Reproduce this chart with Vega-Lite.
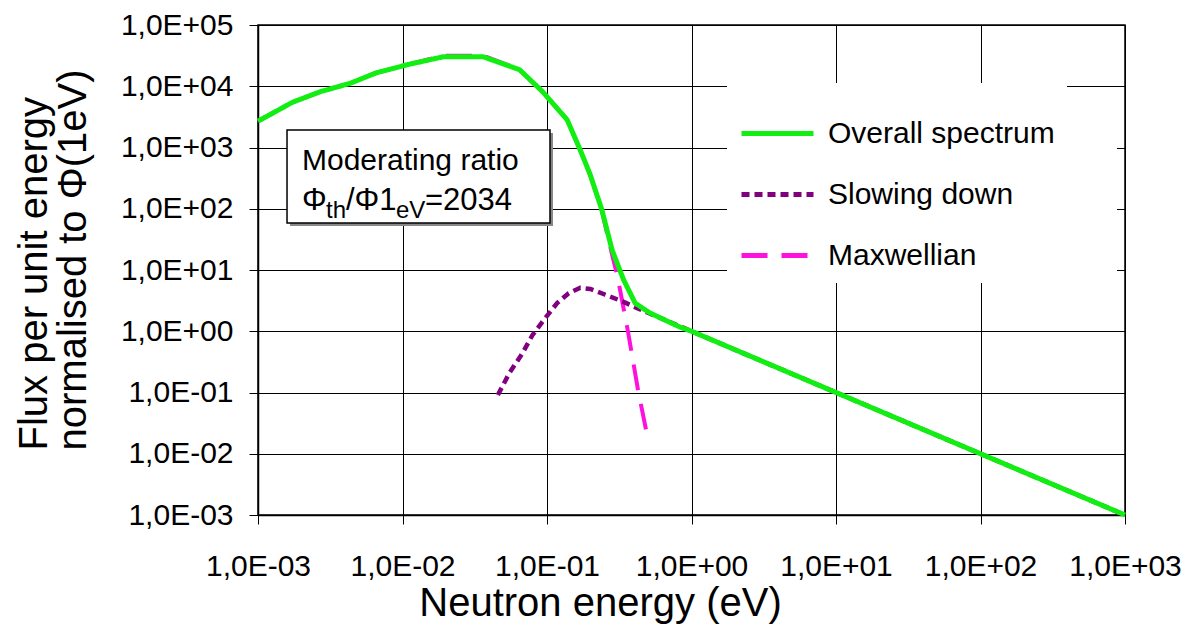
{
  "$schema": "https://vega.github.io/schema/vega-lite/v6.json",
  "width": 867,
  "height": 490,
  "autosize": "none",
  "padding": {"left": 258, "top": 25, "right": 62, "bottom": 114},
  "background": "white",
  "config": {
    "font": "Liberation Sans",
    "view": {"stroke": "black", "strokeWidth": 1.5}
  },
  "layer": [
    {
      "data": {"values": [{"label": "legend area"}]},
      "mark": {"type": "rect", "fill": "white"},
      "encoding": {
        "x": {"datum": 1.846, "type": "quantitative", "scale": {"type": "log", "domain": [0.001, 1000], "nice": false}},
        "x2": {"datum": 880.5},
        "y": {"datum": 7759, "type": "quantitative", "scale": {"type": "log", "domain": [0.001, 100000], "nice": false}},
        "y2": {"datum": 7.4}
      }
    },
    {
      "data": {
        "values": [
          {"series": "Overall spectrum", "energy": 0.001, "flux": 2692},
          {"series": "Overall spectrum", "energy": 0.001738, "flux": 5495},
          {"series": "Overall spectrum", "energy": 0.002692, "flux": 8128},
          {"series": "Overall spectrum", "energy": 0.004365, "flux": 11220},
          {"series": "Overall spectrum", "energy": 0.006607, "flux": 16596},
          {"series": "Overall spectrum", "energy": 0.01072, "flux": 22387},
          {"series": "Overall spectrum", "energy": 0.01905, "flux": 30200},
          {"series": "Overall spectrum", "energy": 0.03631, "flux": 30200},
          {"series": "Overall spectrum", "energy": 0.06457, "flux": 18621},
          {"series": "Overall spectrum", "energy": 0.09333, "flux": 8128},
          {"series": "Overall spectrum", "energy": 0.138, "flux": 2818},
          {"series": "Overall spectrum", "energy": 0.1698, "flux": 912},
          {"series": "Overall spectrum", "energy": 0.1995, "flux": 355},
          {"series": "Overall spectrum", "energy": 0.2399, "flux": 95.5},
          {"series": "Overall spectrum", "energy": 0.2818, "flux": 21.4},
          {"series": "Overall spectrum", "energy": 0.3388, "flux": 6.92},
          {"series": "Overall spectrum", "energy": 0.4074, "flux": 2.88},
          {"series": "Overall spectrum", "energy": 0.5129, "flux": 2.0},
          {"series": "Overall spectrum", "energy": 0.8318, "flux": 1.17},
          {"series": "Overall spectrum", "energy": 1, "flux": 1},
          {"series": "Overall spectrum", "energy": 3.162, "flux": 0.316},
          {"series": "Overall spectrum", "energy": 10, "flux": 0.1},
          {"series": "Overall spectrum", "energy": 31.62, "flux": 0.0316},
          {"series": "Overall spectrum", "energy": 100, "flux": 0.01},
          {"series": "Overall spectrum", "energy": 316.2, "flux": 0.00316},
          {"series": "Overall spectrum", "energy": 1000, "flux": 0.001},
          {"series": "Slowing down", "energy": 0.04571, "flux": 0.0912},
          {"series": "Slowing down", "energy": 0.05495, "flux": 0.209},
          {"series": "Slowing down", "energy": 0.06761, "flux": 0.437},
          {"series": "Slowing down", "energy": 0.07943, "flux": 0.871},
          {"series": "Slowing down", "energy": 0.09772, "flux": 1.66},
          {"series": "Slowing down", "energy": 0.1175, "flux": 2.88},
          {"series": "Slowing down", "energy": 0.1413, "flux": 4.17},
          {"series": "Slowing down", "energy": 0.1698, "flux": 5.13},
          {"series": "Slowing down", "energy": 0.1995, "flux": 4.9},
          {"series": "Slowing down", "energy": 0.2512, "flux": 3.98},
          {"series": "Slowing down", "energy": 0.3388, "flux": 3.02},
          {"series": "Slowing down", "energy": 0.4169, "flux": 2.4},
          {"series": "Slowing down", "energy": 0.5129, "flux": 1.95},
          {"series": "Slowing down", "energy": 1, "flux": 1},
          {"series": "Slowing down", "energy": 3.162, "flux": 0.316},
          {"series": "Slowing down", "energy": 10, "flux": 0.1},
          {"series": "Slowing down", "energy": 31.62, "flux": 0.0316},
          {"series": "Slowing down", "energy": 100, "flux": 0.01},
          {"series": "Slowing down", "energy": 316.2, "flux": 0.00316},
          {"series": "Slowing down", "energy": 1000, "flux": 0.001},
          {"series": "Maxwellian", "energy": 0.001, "flux": 2692},
          {"series": "Maxwellian", "energy": 0.001738, "flux": 5495},
          {"series": "Maxwellian", "energy": 0.002692, "flux": 8128},
          {"series": "Maxwellian", "energy": 0.004365, "flux": 11220},
          {"series": "Maxwellian", "energy": 0.006607, "flux": 16596},
          {"series": "Maxwellian", "energy": 0.01072, "flux": 22387},
          {"series": "Maxwellian", "energy": 0.01905, "flux": 31600},
          {"series": "Maxwellian", "energy": 0.03631, "flux": 31600},
          {"series": "Maxwellian", "energy": 0.06457, "flux": 18621},
          {"series": "Maxwellian", "energy": 0.09333, "flux": 8128},
          {"series": "Maxwellian", "energy": 0.138, "flux": 2818},
          {"series": "Maxwellian", "energy": 0.1698, "flux": 900},
          {"series": "Maxwellian", "energy": 0.1995, "flux": 350},
          {"series": "Maxwellian", "energy": 0.2399, "flux": 92},
          {"series": "Maxwellian", "energy": 0.2818, "flux": 18},
          {"series": "Maxwellian", "energy": 0.309, "flux": 7.41},
          {"series": "Maxwellian", "energy": 0.3631, "flux": 1.0},
          {"series": "Maxwellian", "energy": 0.4266, "flux": 0.1096},
          {"series": "Maxwellian", "energy": 0.5012, "flux": 0.0166}
        ]
      },
      "encoding": {
        "x": {
          "field": "energy",
          "type": "quantitative",
          "scale": {"type": "log", "domain": [0.001, 1000], "nice": false},
          "axis": {
            "title": "Neutron energy (eV)",
            "values": [0.001, 0.01, 0.1, 1, 10, 100, 1000],
            "labelExpr": "'1,0E' + (round(log(datum.value)/LN10) < 0 ? '-' : '+') + (abs(round(log(datum.value)/LN10)) < 10 ? '0' : '') + abs(round(log(datum.value)/LN10))",
            "labelFontSize": 30,
            "labelColor": "black",
            "labelBaseline": "alphabetic",
            "labelPadding": 51,
            "labelFlush": false,
            "labelOverlap": false,
            "tickSize": 9,
            "tickColor": "black",
            "tickWidth": 1,
            "domainColor": "black",
            "domainWidth": 1.5,
            "grid": true,
            "gridColor": "black",
            "gridWidth": 1,
            "gridOpacity": 1,
            "titleFontSize": 40,
            "titleFontWeight": "normal",
            "titleColor": "black",
            "titleX": 342,
            "titleY": 100,
            "titleAlign": "center",
            "titleBaseline": "alphabetic"
          }
        },
        "y": {
          "field": "flux",
          "type": "quantitative",
          "scale": {"type": "log", "domain": [0.001, 100000], "nice": false},
          "axis": {
            "title": ["Flux per unit energy", "normalised to Φ(1eV)"],
            "values": [0.001, 0.01, 0.1, 1, 10, 100, 1000, 10000, 100000],
            "labelExpr": "'1,0E' + (round(log(datum.value)/LN10) < 0 ? '-' : '+') + (abs(round(log(datum.value)/LN10)) < 10 ? '0' : '') + abs(round(log(datum.value)/LN10))",
            "labelFontSize": 30,
            "labelColor": "black",
            "labelPadding": 16,
            "labelFlush": false,
            "labelOverlap": false,
            "tickSize": 9,
            "tickColor": "black",
            "tickWidth": 1,
            "domainColor": "black",
            "domainWidth": 1.5,
            "grid": true,
            "gridColor": "black",
            "gridWidth": 1,
            "gridOpacity": 1,
            "titleFontSize": 40,
            "titleFontWeight": "normal",
            "titleColor": "black",
            "titleAngle": -90,
            "titleX": -212,
            "titleY": 425,
            "titleAlign": "left",
            "titleBaseline": "alphabetic",
            "titleLineHeight": 39
          }
        },
        "color": {
          "field": "series", "type": "nominal",
          "scale": {"domain": ["Overall spectrum", "Slowing down", "Maxwellian"], "range": ["#11ee11", "#800080", "#ff11dd"]},
          "legend": {"title": null, "orient": "none", "legendX": 469, "legendY": 58, "symbolType": "stroke", "symbolSize": 5184, "symbolStrokeWidth": 5, "labelFontSize": 30, "labelColor": "black", "labelOffset": 12, "rowPadding": 7, "fillColor": "white", "padding": 12, "labelLimit": 400}
        },
        "strokeDash": {
          "field": "series", "type": "nominal",
          "scale": {"domain": ["Overall spectrum", "Slowing down", "Maxwellian"], "range": [[1, 0], [8, 5], [26, 14]]},
          "legend": {"title": null, "orient": "none", "legendX": 469, "legendY": 58, "symbolType": "stroke", "symbolSize": 5184, "symbolStrokeWidth": 5, "labelFontSize": 30, "labelColor": "black", "labelOffset": 12, "rowPadding": 7, "fillColor": "white", "padding": 12, "labelLimit": 400}
        }
      },
      "layer": [
        {
          "transform": [{"filter": "datum.series === 'Maxwellian'"}],
          "mark": {"type": "line", "strokeWidth": 4, "strokeCap": "butt"}
        },
        {
          "transform": [{"filter": "datum.series === 'Slowing down'"}],
          "mark": {"type": "line", "strokeWidth": 4.5, "strokeCap": "butt"}
        },
        {
          "transform": [{"filter": "datum.series === 'Overall spectrum'"}],
          "mark": {"type": "line", "strokeWidth": 5, "strokeCap": "butt"}
        }
      ]
    },
    {
      "data": {"values": [{"label": "box"}]},
      "mark": {"type": "rect", "fill": "#888888", "xOffset": 3, "x2Offset": 3, "yOffset": 3, "y2Offset": 3},
      "encoding": {
        "x": {"datum": 0.001588, "type": "quantitative"},
        "x2": {"datum": 0.1049},
        "y": {"datum": 1931, "type": "quantitative"},
        "y2": {"datum": 58.5}
      }
    },
    {
      "data": {"values": [{"label": "box"}]},
      "mark": {"type": "rect", "fill": "white", "stroke": "black", "strokeWidth": 1.5},
      "encoding": {
        "x": {"datum": 0.001588, "type": "quantitative"},
        "x2": {"datum": 0.1049},
        "y": {"datum": 1931, "type": "quantitative"},
        "y2": {"datum": 58.5}
      }
    },
    {
      "data": {"values": [{"label": "Moderating ratio"}]},
      "mark": {"type": "text", "fontSize": 30, "align": "left", "baseline": "alphabetic", "color": "black"},
      "encoding": {
        "text": {"field": "label"},
        "x": {"datum": 0.002015, "type": "quantitative"},
        "y": {"datum": 429.5, "type": "quantitative"}
      }
    },
    {
      "data": {"values": [{"label": "Φ"}]},
      "mark": {"type": "text", "fontSize": 31, "align": "left", "baseline": "alphabetic", "color": "black"},
      "encoding": {
        "text": {"field": "label"},
        "x": {"datum": 0.002015, "type": "quantitative"},
        "y": {"datum": 95.4, "type": "quantitative"}
      }
    },
    {
      "data": {"values": [{"label": "th"}]},
      "mark": {"type": "text", "fontSize": 24, "align": "left", "baseline": "alphabetic", "color": "black"},
      "encoding": {
        "text": {"field": "label"},
        "x": {"datum": 0.002955, "type": "quantitative"},
        "y": {"datum": 70.6, "type": "quantitative"}
      }
    },
    {
      "data": {"values": [{"label": "/Φ1"}]},
      "mark": {"type": "text", "fontSize": 31, "align": "left", "baseline": "alphabetic", "color": "black"},
      "encoding": {
        "text": {"field": "label"},
        "x": {"datum": 0.004064, "type": "quantitative"},
        "y": {"datum": 95.4, "type": "quantitative"}
      }
    },
    {
      "data": {"values": [{"label": "eV"}]},
      "mark": {"type": "text", "fontSize": 24, "align": "left", "baseline": "alphabetic", "color": "black"},
      "encoding": {
        "text": {"field": "label"},
        "x": {"datum": 0.009016, "type": "quantitative"},
        "y": {"datum": 70.6, "type": "quantitative"}
      }
    },
    {
      "data": {"values": [{"label": "=2034"}]},
      "mark": {"type": "text", "fontSize": 31, "align": "left", "baseline": "alphabetic", "color": "black"},
      "encoding": {
        "text": {"field": "label"},
        "x": {"datum": 0.0143, "type": "quantitative"},
        "y": {"datum": 95.4, "type": "quantitative"}
      }
    }
  ]
}
